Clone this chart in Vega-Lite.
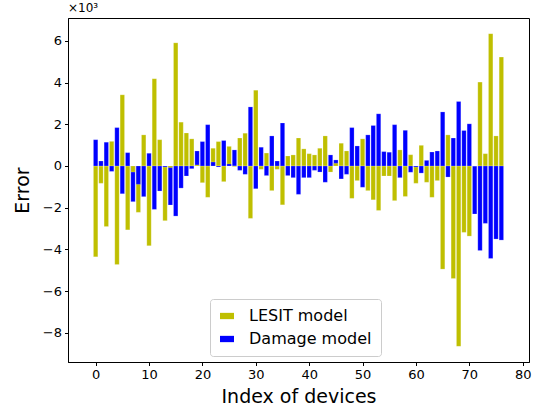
{
  "$schema": "https://vega.github.io/schema/vega-lite/v6.json",
  "width": 461,
  "height": 344,
  "autosize": {"type": "none"},
  "padding": {"left": 68, "top": 18, "right": 17, "bottom": 51},
  "background": "white",
  "title": {"text": "×10³", "anchor": "start", "frame": "group", "fontSize": 12, "fontWeight": "normal", "font": "DejaVu Sans", "color": "black", "offset": 3},
  "config": {
    "font": "DejaVu Sans",
    "view": {"stroke": "black", "strokeWidth": 1},
    "axis": {"grid": false, "domainColor": "black", "tickColor": "black", "tickSize": 3.5, "labelColor": "black", "labelFontSize": 13, "labelFont": "DejaVu Sans", "titleFont": "DejaVu Sans", "titleFontSize": 19, "titleFontWeight": "normal", "titleColor": "black", "labelPadding": 3}
  },
  "data": {"values": [
    {"device":0,"model":"LESIT model","error":-4.35},{"device":0,"model":"Damage model","error":1.26},
    {"device":1,"model":"LESIT model","error":-0.83},{"device":1,"model":"Damage model","error":0.24},
    {"device":2,"model":"LESIT model","error":-2.90},{"device":2,"model":"Damage model","error":1.14},
    {"device":3,"model":"LESIT model","error":1.18},{"device":3,"model":"Damage model","error":-0.26},
    {"device":4,"model":"LESIT model","error":-4.72},{"device":4,"model":"Damage model","error":1.84},
    {"device":5,"model":"LESIT model","error":3.41},{"device":5,"model":"Damage model","error":-1.33},
    {"device":6,"model":"LESIT model","error":-3.06},{"device":6,"model":"Damage model","error":0.64},
    {"device":7,"model":"Damage model","error":-1.71},{"device":7,"model":"LESIT model","error":-0.29},
    {"device":8,"model":"LESIT model","error":-2.22},{"device":8,"model":"Damage model","error":-0.88},
    {"device":9,"model":"LESIT model","error":1.49},{"device":9,"model":"Damage model","error":-1.47},
    {"device":10,"model":"LESIT model","error":-3.82},{"device":10,"model":"Damage model","error":0.61},
    {"device":11,"model":"LESIT model","error":4.18},{"device":11,"model":"Damage model","error":-2.08},
    {"device":12,"model":"LESIT model","error":1.26},{"device":12,"model":"Damage model","error":-1.20},
    {"device":13,"model":"LESIT model","error":-2.62},{"device":13,"model":"Damage model","error":-0.05},
    {"device":14,"model":"Damage model","error":-1.87},{"device":14,"model":"LESIT model","error":-0.08},
    {"device":15,"model":"LESIT model","error":5.90},{"device":15,"model":"Damage model","error":-2.40},
    {"device":16,"model":"LESIT model","error":2.10},{"device":16,"model":"Damage model","error":-1.06},
    {"device":17,"model":"LESIT model","error":1.58},{"device":17,"model":"Damage model","error":-0.48},
    {"device":18,"model":"LESIT model","error":1.30},{"device":18,"model":"Damage model","error":-0.13},
    {"device":19,"model":"Damage model","error":0.72},{"device":19,"model":"LESIT model","error":0.05},
    {"device":20,"model":"LESIT model","error":-0.80},{"device":20,"model":"Damage model","error":1.17},
    {"device":21,"model":"LESIT model","error":-1.50},{"device":21,"model":"Damage model","error":1.98},
    {"device":22,"model":"LESIT model","error":0.85},{"device":22,"model":"Damage model","error":0.19},
    {"device":23,"model":"LESIT model","error":1.17},{"device":23,"model":"Damage model","error":-0.05},
    {"device":24,"model":"LESIT model","error":-0.75},{"device":24,"model":"Damage model","error":1.22},
    {"device":25,"model":"LESIT model","error":0.94},{"device":25,"model":"Damage model","error":0.10},
    {"device":26,"model":"Damage model","error":0.77},{"device":26,"model":"LESIT model","error":-0.03},
    {"device":27,"model":"LESIT model","error":1.34},{"device":27,"model":"Damage model","error":-0.21},
    {"device":28,"model":"LESIT model","error":1.57},{"device":28,"model":"Damage model","error":-0.40},
    {"device":29,"model":"LESIT model","error":-2.51},{"device":29,"model":"Damage model","error":2.83},
    {"device":30,"model":"LESIT model","error":3.63},{"device":30,"model":"Damage model","error":-1.09},
    {"device":31,"model":"LESIT model","error":-0.16},{"device":31,"model":"Damage model","error":0.90},
    {"device":32,"model":"LESIT model","error":0.62},{"device":32,"model":"Damage model","error":-0.46},
    {"device":33,"model":"LESIT model","error":-1.18},{"device":33,"model":"Damage model","error":1.44},
    {"device":34,"model":"LESIT model","error":-0.16},{"device":34,"model":"Damage model","error":0.24},
    {"device":35,"model":"LESIT model","error":-1.86},{"device":35,"model":"Damage model","error":2.06},
    {"device":36,"model":"LESIT model","error":0.48},{"device":36,"model":"Damage model","error":-0.46},
    {"device":37,"model":"LESIT model","error":0.53},{"device":37,"model":"Damage model","error":-0.56},
    {"device":38,"model":"LESIT model","error":1.34},{"device":38,"model":"Damage model","error":-1.36},
    {"device":39,"model":"LESIT model","error":0.82},{"device":39,"model":"Damage model","error":-0.56},
    {"device":40,"model":"LESIT model","error":0.59},{"device":40,"model":"Damage model","error":-0.56},
    {"device":41,"model":"LESIT model","error":0.53},{"device":41,"model":"Damage model","error":-0.21},
    {"device":42,"model":"LESIT model","error":0.85},{"device":42,"model":"Damage model","error":-0.29},
    {"device":43,"model":"LESIT model","error":1.44},{"device":43,"model":"Damage model","error":-0.78},
    {"device":44,"model":"LESIT model","error":-0.29},{"device":44,"model":"Damage model","error":0.53},
    {"device":45,"model":"Damage model","error":0.29},{"device":45,"model":"LESIT model","error":0.13},
    {"device":46,"model":"LESIT model","error":1.09},{"device":46,"model":"Damage model","error":-0.62},
    {"device":47,"model":"LESIT model","error":0.72},{"device":47,"model":"Damage model","error":-0.40},
    {"device":48,"model":"LESIT model","error":-1.55},{"device":48,"model":"Damage model","error":1.84},
    {"device":49,"model":"LESIT model","error":-0.70},{"device":49,"model":"Damage model","error":0.96},
    {"device":50,"model":"LESIT model","error":1.30},{"device":50,"model":"Damage model","error":-1.02},
    {"device":51,"model":"LESIT model","error":-1.18},{"device":51,"model":"Damage model","error":1.49},
    {"device":52,"model":"LESIT model","error":-1.62},{"device":52,"model":"Damage model","error":1.94},
    {"device":53,"model":"LESIT model","error":-2.13},{"device":53,"model":"Damage model","error":2.50},
    {"device":54,"model":"LESIT model","error":-0.48},{"device":54,"model":"Damage model","error":0.69},
    {"device":55,"model":"LESIT model","error":-0.48},{"device":55,"model":"Damage model","error":0.66},
    {"device":56,"model":"LESIT model","error":-1.66},{"device":56,"model":"Damage model","error":1.98},
    {"device":57,"model":"LESIT model","error":0.77},{"device":57,"model":"Damage model","error":-0.56},
    {"device":58,"model":"LESIT model","error":-1.46},{"device":58,"model":"Damage model","error":1.71},
    {"device":59,"model":"LESIT model","error":0.54},{"device":59,"model":"Damage model","error":-0.30},
    {"device":60,"model":"LESIT model","error":-0.83},{"device":60,"model":"Damage model","error":-0.05},
    {"device":61,"model":"LESIT model","error":0.99},{"device":61,"model":"Damage model","error":-0.34},
    {"device":62,"model":"LESIT model","error":-0.78},{"device":62,"model":"Damage model","error":0.27},
    {"device":63,"model":"LESIT model","error":-1.50},{"device":63,"model":"Damage model","error":0.67},
    {"device":64,"model":"LESIT model","error":-0.70},{"device":64,"model":"Damage model","error":0.72},
    {"device":65,"model":"LESIT model","error":-4.94},{"device":65,"model":"Damage model","error":2.59},
    {"device":66,"model":"LESIT model","error":1.49},{"device":66,"model":"Damage model","error":-0.53},
    {"device":67,"model":"LESIT model","error":-5.39},{"device":67,"model":"Damage model","error":1.34},
    {"device":68,"model":"LESIT model","error":-8.64},{"device":68,"model":"Damage model","error":3.09},
    {"device":69,"model":"LESIT model","error":-3.18},{"device":69,"model":"Damage model","error":1.70},
    {"device":70,"model":"LESIT model","error":-3.36},{"device":70,"model":"Damage model","error":2.02},
    {"device":71,"model":"Damage model","error":-2.30},{"device":71,"model":"LESIT model","error":0},
    {"device":72,"model":"LESIT model","error":4.02},{"device":72,"model":"Damage model","error":-4.05},
    {"device":73,"model":"LESIT model","error":0.59},{"device":73,"model":"Damage model","error":-2.75},
    {"device":74,"model":"LESIT model","error":6.34},{"device":74,"model":"Damage model","error":-4.43},
    {"device":75,"model":"LESIT model","error":1.44},{"device":75,"model":"Damage model","error":-3.50},
    {"device":76,"model":"LESIT model","error":5.22},{"device":76,"model":"Damage model","error":-3.55}
  ]},
  "mark": {"type": "bar", "size": 4.4, "stroke": "white", "strokeWidth": 0.4, "strokeOpacity": 0.5},
  "encoding": {
    "x": {"field": "device", "type": "quantitative", "scale": {"domain": [-4.24, 80.24], "nice": false, "zero": false},
          "axis": {"values": [0,10,20,30,40,50,60,70,80], "title": "Index of devices", "titlePadding": 6}},
    "y": {"field": "error", "type": "quantitative", "stack": null, "scale": {"domain": [-9.39, 7.09], "nice": false, "zero": false},
          "axis": {"values": [-8,-6,-4,-2,0,2,4,6], "title": "Error", "titlePadding": 10}},
    "color": {"field": "model", "type": "nominal",
              "scale": {"domain": ["LESIT model", "Damage model"], "range": ["#bfbf00", "#0000ff"]},
              "legend": {"orient": "none", "legendX": 142, "legendY": 281, "title": null, "direction": "vertical",
                         "fillColor": "white", "strokeColor": "#cccccc", "cornerRadius": 3, "padding": 9,
                         "labelFontSize": 16, "labelFont": "DejaVu Sans", "labelColor": "black",
                         "symbolType": "M-1,-0.45H1V0.45H-1Z", "symbolSize": 196, "symbolStrokeWidth": 0,
                         "symbolOpacity": 1, "rowPadding": 7, "labelOffset": 14}}
  }
}
